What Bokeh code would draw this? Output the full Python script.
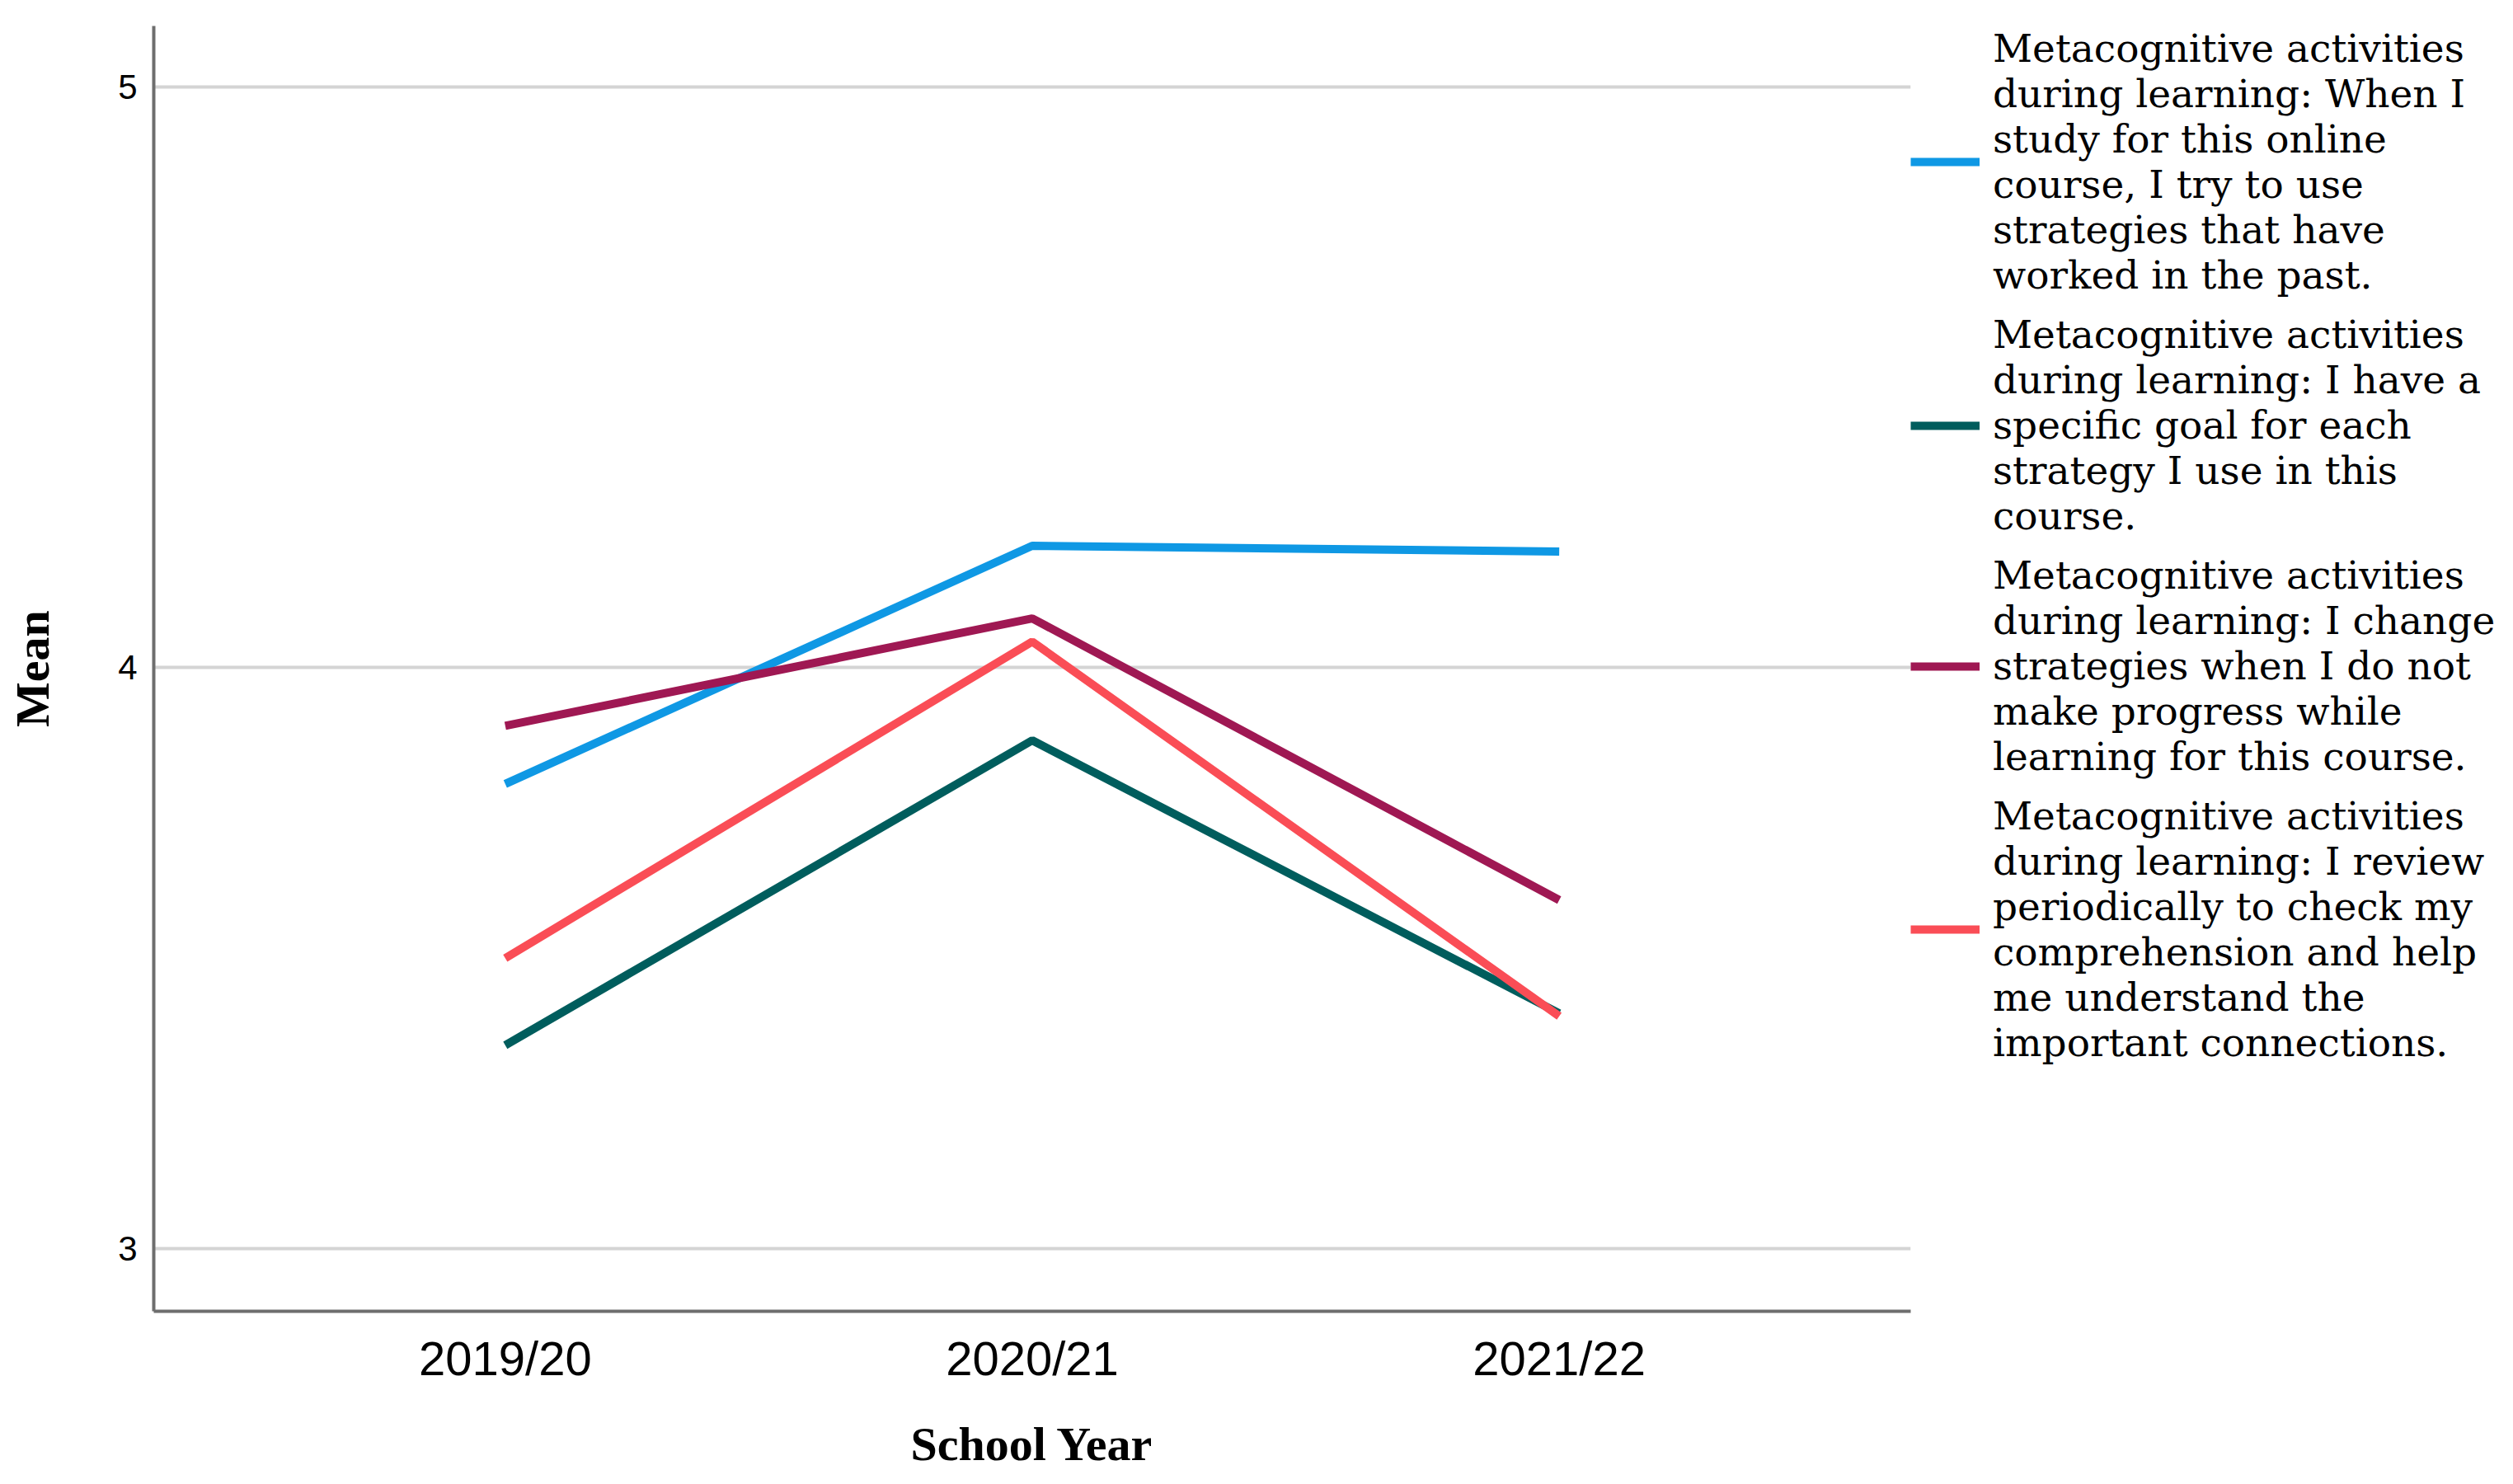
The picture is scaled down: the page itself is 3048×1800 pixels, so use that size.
from bokeh.plotting import figure
from bokeh.models import FactorRange, Range1d, FixedTicker, Legend, LegendItem
from bokeh.embed import file_html
from bokeh.resources import INLINE

years = ["2019/20", "2020/21", "2021/22"]
s_past = [3.80, 4.21, 4.20]
s_goal = [3.35, 3.875, 3.405]
s_change = [3.90, 4.085, 3.60]
s_review = [3.50, 4.045, 3.40]
y_ticks = [3, 4, 5]

labels = [
    "Metacognitive activities\nduring learning: When I\nstudy for this online\ncourse, I try to use\nstrategies that have\nworked in the past.",
    "Metacognitive activities\nduring learning: I have a\nspecific goal for each\nstrategy I use in this\ncourse.",
    "Metacognitive activities\nduring learning: I change\nstrategies when I do not\nmake progress while\nlearning for this course.",
    "Metacognitive activities\nduring learning: I review\nperiodically to check my\ncomprehension and help\nme understand the\nimportant connections.",
]
series = [s_past, s_goal, s_change, s_review]
colors = ["#0f98e4", "#005d5d", "#9f1853", "#fa4d56"]

p = figure(
    x_range=FactorRange(factors=years, range_padding=0.167, range_padding_units="absolute"),
    y_range=Range1d(2.892, 5.105),
    frame_width=2131, frame_height=1559,
    min_border_left=186, min_border_top=31, min_border_bottom=190, min_border_right=0,
    output_backend="svg", toolbar_location=None,
)
p.outline_line_color = None
p.background_fill_color = "white"

renderers = []
for vals, c in zip(series, colors):
    r = p.line(x=years, y=vals, line_color=c, line_width=10)
    renderers.append(r)

# axes
p.xgrid.grid_line_color = None
p.ygrid.grid_line_color = "#d4d4d4"
p.ygrid.grid_line_width = 4
p.yaxis.ticker = FixedTicker(ticks=y_ticks)

for ax in (p.xaxis[0], p.yaxis[0]):
    ax.axis_line_color = "#6e6e6e"
    ax.axis_line_width = 4
    ax.major_tick_line_color = None
    ax.minor_tick_line_color = None
    ax.major_tick_out = 0
    ax.major_tick_in = 0
    ax.axis_label_text_font = "Liberation Serif"
    ax.axis_label_text_font_style = "bold"
    ax.axis_label_text_font_size = "58px"
    ax.axis_label_text_color = "black"
    ax.major_label_text_font = "Liberation Sans"
    ax.major_label_text_color = "black"

p.yaxis.axis_label = "Mean"
p.yaxis.major_label_text_font_size = "42px"
p.yaxis.major_label_standoff = 20
p.yaxis.axis_label_standoff = 68

p.xaxis.axis_label = "School Year"
p.xaxis.major_label_text_font_size = "58px"
p.xaxis.major_label_standoff = 24
p.xaxis.axis_label_standoff = 36

legend = Legend(
    items=[LegendItem(label=l, renderers=[r]) for l, r in zip(labels, renderers)],
    location="top_left",
    glyph_width=84, glyph_height=40,
    label_standoff=16, spacing=17, padding=0, margin=0,
    border_line_color=None, background_fill_alpha=0,
    label_text_font="DejaVu Serif", label_text_font_size="47px",
    label_text_line_height=1.15, label_text_color="black",
)
p.add_layout(legend, "right")

open("out.html", "w").write(file_html(p, INLINE))
